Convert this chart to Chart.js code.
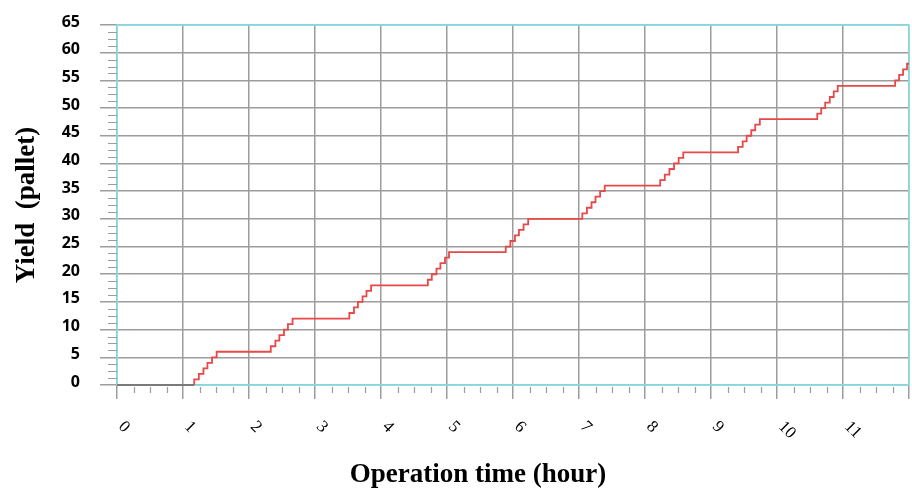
<!DOCTYPE html>
<html>
<head>
<meta charset="utf-8">
<script src="https://cdn.jsdelivr.net/npm/chart.js@4"></script>
<style>
  html, body { margin: 0; padding: 0; background: #fff; }
  #wrap { width: 912px; height: 492px; }
</style>
</head>
<body>
<div id="wrap"><canvas id="c" width="912" height="492"></canvas></div>
<script>
// Operation time (hour) at each corner of the yield staircase
const hours = [
  0, 1.17,
  1.17, 1.24, 1.31, 1.37, 1.44, 1.51,
  2.33, 2.40, 2.46, 2.53, 2.59, 2.66,
  3.52, 3.59, 3.65, 3.72, 3.78, 3.85,
  4.71, 4.77, 4.84, 4.90, 4.97, 5.03,
  5.89, 5.96, 6.03, 6.09, 6.16, 6.23,
  7.05, 7.12, 7.19, 7.25, 7.32, 7.39,
  8.23, 8.30, 8.37, 8.44, 8.51, 8.58,
  9.41, 9.48, 9.54, 9.61, 9.67, 9.74,
  10.61, 10.67, 10.73, 10.80, 10.86, 10.92,
  11.79, 11.85, 11.91, 11.97, 12.0
];
// Yield (pallet) reached at each of those times
const yields = [
  0, 0,
  1, 2, 3, 4, 5, 6,
  7, 8, 9, 10, 11, 12,
  13, 14, 15, 16, 17, 18,
  19, 20, 21, 22, 23, 24,
  25, 26, 27, 28, 29, 30,
  31, 32, 33, 34, 35, 36,
  37, 38, 39, 40, 41, 42,
  43, 44, 45, 46, 47, 48,
  49, 50, 51, 52, 53, 54,
  55, 56, 57, 58, 58
];
const xTickLabels = ['0','1','2','3','4','5','6','7','8','9','10','11'];
const yTickLabels = ['0','5','10','15','20','25','30','35','40','45','50','55','60','65'];
const xTitle = 'Operation time (hour)';
const yTitle = 'Yield  (pallet)';

const points = hours.map((h, i) => ({ x: h, y: yields[i] }));

const GRID = '#9c9c9c';
const CYAN = '#86e2e8';

const decor = {
  id: 'decor',
  beforeDatasetsDraw(chart) {
    const { ctx, chartArea: a } = chart;
    ctx.save();
    ctx.strokeStyle = CYAN;
    ctx.lineWidth = 1.6;
    ctx.strokeRect(a.left, a.top, a.right - a.left, a.bottom - a.top);
    ctx.restore();
  },
  afterDraw(chart) {
    const { ctx, chartArea: a, scales } = chart;
    const xs = scales.x, ys = scales.y;
    ctx.save();
    // minor ticks
    ctx.strokeStyle = GRID;
    ctx.lineWidth = 1.2;
    ctx.beginPath();
    for (let v = 0; v <= 65.001; v += 1.25) {
      if (Math.abs(v / 5 - Math.round(v / 5)) < 1e-6) continue;
      const py = Math.round(ys.getPixelForValue(v)) + 0.5;
      ctx.moveTo(a.left - 9, py); ctx.lineTo(a.left, py);
    }
    for (let v = 0; v <= 12.001; v += 0.25) {
      if (Math.abs(v - Math.round(v)) < 1e-6) continue;
      const px = Math.round(xs.getPixelForValue(v)) + 0.5;
      ctx.moveTo(px, a.bottom + 2); ctx.lineTo(px, a.bottom + 8);
    }
    ctx.stroke();
    // rotated x tick labels
    ctx.fillStyle = '#000';
    ctx.font = '17px "Liberation Serif", serif';
    ctx.textAlign = 'left';
    ctx.textBaseline = 'middle';
    xTickLabels.forEach((lab, i) => {
      const px = xs.getPixelForValue(i);
      ctx.save();
      ctx.translate(px + 4, a.bottom + 39);
      ctx.rotate(Math.PI / 4);
      ctx.fillText(lab, 0, 0);
      ctx.restore();
    });
    // x axis title
    ctx.font = 'bold 27px "Liberation Serif", serif';
    ctx.textAlign = 'center';
    ctx.fillText(xTitle, 478, 475);
    ctx.restore();
  }
};

new Chart(document.getElementById('c'), {
  type: 'line',
  data: {
    datasets: [{
      data: points,
      stepped: true,
      borderColor: '#e84848',
      borderWidth: 1.8,
      pointRadius: 0,
      fill: false,
      clip: 4,
      segment: {
        borderColor: c => (c.p0.parsed.y === 0 && c.p1.parsed.y === 0) ? '#7a7a7a' : '#e84848',
        borderWidth: c => (c.p0.parsed.y === 0 && c.p1.parsed.y === 0) ? 2 : 1.8
      }
    }]
  },
  plugins: [decor],
  options: {
    responsive: false,
    animation: false,
    devicePixelRatio: 1,
    layout: { padding: { top: 25, right: 3, left: 0, bottom: 0 } },
    plugins: { legend: { display: false }, tooltip: { enabled: false } },
    scales: {
      x: {
        type: 'linear',
        min: 0, max: 12,
        afterFit: s => { s.height = 107; s.paddingLeft = 0; s.paddingRight = 0; },
        ticks: { display: false, stepSize: 1 },
        grid: { color: GRID, lineWidth: 1.5, tickLength: 14, drawTicks: true },
        border: { display: false }
      },
      y: {
        type: 'linear',
        min: 0, max: 65,
        afterFit: s => { s.width = 117; s.paddingTop = 0; s.paddingBottom = 0; },
        ticks: {
          stepSize: 5,
          padding: 20,
          labelOffset: -3,
          color: '#000',
          font: { family: '"Open Sans", sans-serif', weight: 'bold', size: 16 },
          callback: (v) => yTickLabels[Math.round(v / 5)]
        },
        grid: { color: GRID, lineWidth: 1.5, tickLength: 17 },
        border: { display: false },
        title: {
          display: true,
          text: yTitle,
          color: '#000',
          font: { family: '"Liberation Serif", serif', weight: 'bold', size: 27 },
          padding: { top: 11, bottom: 0 }
        }
      }
    }
  }
});
</script>
</body>
</html>
